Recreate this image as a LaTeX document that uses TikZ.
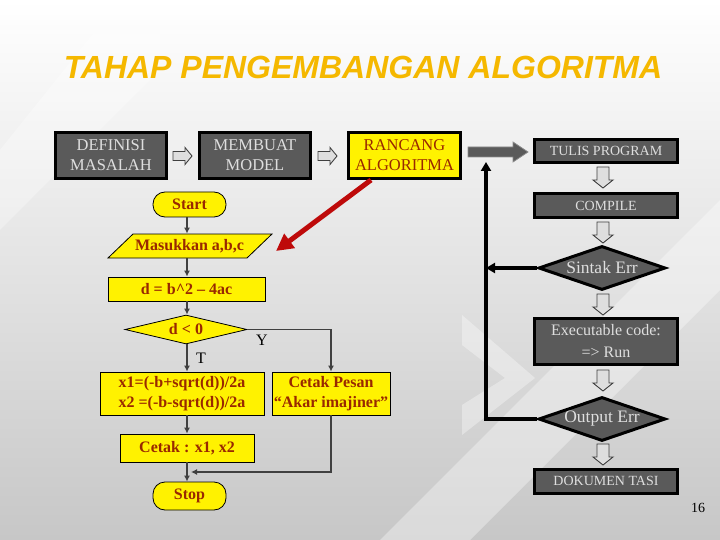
\documentclass[tikz,border=0pt]{standalone}
\usepackage{fontspec}
\setmainfont{Liberation Serif}
\newfontfamily\titlefont{Liberation Sans}
\usetikzlibrary{shapes.geometric,arrows.meta,calc}
\definecolor{ttl}{RGB}{245,184,0}
\definecolor{boxgray}{RGB}{90,90,90}
\definecolor{boxtxt}{RGB}{222,222,222}
\definecolor{ytxt}{RGB}{153,40,0}
\definecolor{conncol}{RGB}{64,64,64}
\definecolor{redarr}{RGB}{190,10,10}
\definecolor{hollow}{RGB}{222,222,222}
\begin{document}
\begin{tikzpicture}[x=1pt,y=-1pt,
  gbox/.style={draw=black,line width=3pt,fill=boxgray,text=boxtxt,align=center,
    inner sep=0pt,font=\fontsize{14}{18}\selectfont},
  bigtxt/.style={font=\fontsize{16.5}{20}\selectfont},
  gdia/.style={diamond,draw=black,line width=3pt,fill=boxgray,text=boxtxt,
    inner sep=0pt,aspect=2.7,font=\fontsize{17.5}{20}\selectfont},
  ybox/.style={draw=black,line width=0.8pt,fill=yellow,text=ytxt,align=center,
    inner sep=0pt,font=\fontsize{16}{20}\selectfont\bfseries},
  yterm/.style={ybox,rounded corners=12pt},
  conn/.style={draw=conncol,line width=1.5pt,-{Latex[length=6pt,width=6pt]}},
  loopline/.style={draw=black,line width=3.5pt},
  harrow/.style={draw=conncol,line width=0.9pt,fill=hollow},
  lbl/.style={font=\fontsize{16}{18}\selectfont,inner sep=0pt},
  downarr/.pic={\path[harrow] (-6,0) -- (6,0) -- (6,13) -- (10,13) -- (0,21) -- (-10,13) -- (-6,13) -- cycle;},
  rightarr/.pic={\path[harrow] (0,-4.5) -- (12,-4.5) -- (12,-8.5) -- (19,0) -- (12,8.5) -- (12,4.5) -- (0,4.5) -- cycle;}
]
\useasboundingbox (0,0) rectangle (720,540);
% background
\shade[top color=white,bottom color=black!22] (0,0) rectangle (720,540);
\fill[white,opacity=0.35] (380,540) -- (470,540) -- (720,290) -- (720,200) -- cycle;
\fill[white,opacity=0.3] (0,150) -- (0,230) -- (160,70) -- (160,0) -- (120,0) -- cycle;
\fill[white,opacity=0.35] (462,315) -- (462,345) -- (505,378) -- (462,405) -- (462,435) -- (535,378) -- cycle;
% title
\node[font=\titlefont\bfseries\itshape\fontsize{32}{36}\selectfont,text=ttl,inner sep=0pt] (title) at (363,67) {TAHAP PENGEMBANGAN ALGORITMA};
% top row
\node[gbox,bigtxt,minimum width=111pt,minimum height=46pt] (def) at (111,155.5) {DEFINISI\\MASALAH};
\node[gbox,bigtxt,minimum width=111pt,minimum height=46pt] (mod) at (255,155.5) {MEMBUAT\\MODEL};
\node[gbox,bigtxt,fill=yellow,text=ytxt,minimum width=112pt,minimum height=46pt] (ran) at (404.5,155.5) {RANCANG\\ALGORITMA};
\pic at (173,156) {rightarr};
\pic at (318,156) {rightarr};
% right column
\node[gbox,minimum width=143pt,minimum height=23pt] (tulis) at (606,151) {TULIS PROGRAM};
\node[gbox,minimum width=143pt,minimum height=24pt] (comp) at (606,205.5) {COMPILE};
\node[gdia,minimum width=127pt,minimum height=44pt] (sin) at (602,268) {Sintak Err};
\node[gbox,font=\fontsize{16}{22}\selectfont,minimum width=143pt,minimum height=46pt] (exe) at (606,341.5) {Executable code:\\=> Run};
\node[gdia,minimum width=127pt,minimum height=44pt] (out) at (602,419) {Output Err};
\node[gbox,minimum width=143pt,minimum height=24pt] (doc) at (606,481) {DOKUMEN TASI};
\pic at (603,167) {downarr};
\pic at (603,222) {downarr};
\pic at (603,294) {downarr};
\pic at (603,370) {downarr};
\pic at (603,444) {downarr};
% big dark arrow rancang -> tulis
\path[draw=black!45,line width=0.8pt,fill=boxgray] (468,147) -- (513,147) -- (513,142) -- (528,152) -- (513,162) -- (513,157) -- (468,157) -- cycle;
% loop back line
\coordinate (lpc) at (486,419);
\coordinate (lptop) at (486,162);
\draw[loopline] (out.west) -- (lpc) -- ([yshift=-8pt]lptop);
\draw[loopline,-{Triangle[length=9pt,width=10pt]}] ([yshift=-10pt]lptop) -- (lptop);
\draw[loopline,-{Triangle[length=9pt,width=10pt]}] (sin.west) -- (sin.west -| lpc);
% flowchart
\node[yterm,minimum width=73pt,minimum height=25pt] (start) at (189.5,204.5) {Start};
\path[draw=black,line width=0.8pt,fill=yellow] (133,234) -- (272,234) -- (247,258) -- (108,258) -- cycle;
\node[ybox,draw=none,fill=none,minimum height=24pt] (inp) at (189.5,246) {Masukkan a,b,c};
\node[ybox,minimum width=157pt,minimum height=24pt] (dd) at (186.5,289) {d = b\^{}2 – 4ac};
\node[ybox,diamond,align=none,minimum width=122pt,minimum height=29pt,aspect=4] (dia) at (186,329.5) {d < 0};
\node[ybox,minimum width=164pt,minimum height=43pt] (xx) at (182,393.5) {x1=(-b+sqrt(d))/2a\\x2 =(-b-sqrt(d))/2a};
\node[ybox,minimum width=118pt,minimum height=43pt] (pes) at (331,393.5) {Cetak Pesan\\“Akar imajiner”};
\node[ybox,minimum width=134pt,minimum height=28pt] (cet) at (187,448) {Cetak : x1, x2};
\node[yterm,minimum width=73pt,minimum height=28pt] (stop) at (189.5,496) {Stop};
\node[lbl] (ylab) at (262,340) {Y};
\node[lbl] (tlab) at (201,358) {T};
\coordinate (ax) at (187,0);
\draw[conn] (start.south -| ax) -- (inp.north -| ax);
\draw[conn] (inp.south -| ax) -- (dd.north -| ax);
\draw[conn] (dd.south -| ax) -- (dia.north -| ax);
\draw[conn] (dia.south -| ax) -- (xx.north -| ax);
\draw[conn] (xx.south -| ax) -- (cet.north -| ax);
\draw[conn] (cet.south -| ax) -- (stop.north -| ax);
\draw[conn] (dia.east) -| (pes.north);
\coordinate (mrg) at ($(cet.south -| ax)!0.5!(stop.north -| ax)$);
\draw[conn] (pes.south) |- ([xshift=4pt]mrg);
% red arrow
\draw[redarr,line width=5pt,-{Triangle[length=17pt,width=17pt]}] ([xshift=24pt]ran.south west) -- (276,251);
\node[font=\fontsize{14}{16}\selectfont,inner sep=0pt] (pg) at (698,508) {16};
\end{tikzpicture}
\end{document}
